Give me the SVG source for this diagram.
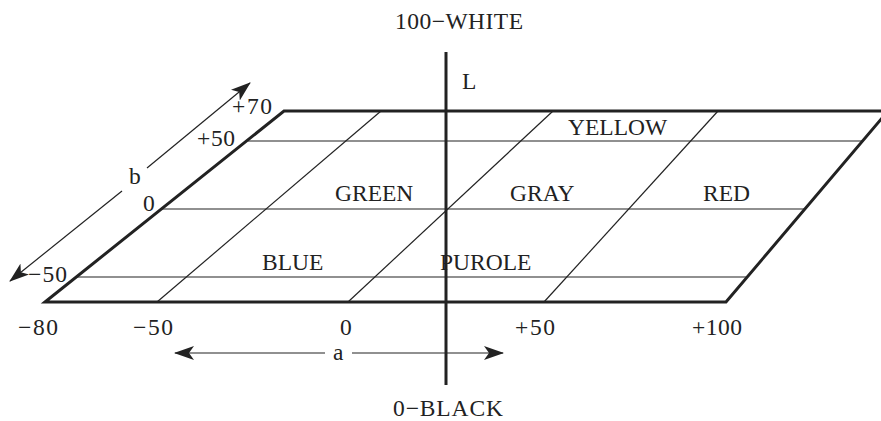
<svg xmlns="http://www.w3.org/2000/svg" width="881" height="421" viewBox="0 0 881 421">
<style>
text{font-family:"Liberation Serif","Times New Roman",serif;font-size:23.5px;fill:#222}
.thick{stroke:#222;stroke-width:3;fill:none;stroke-linejoin:miter}
.thin{stroke:#222;stroke-width:1.2;fill:none}
.ax{stroke:#222;stroke-width:1.2;fill:none}
</style>
<defs>
<marker id="ah" viewBox="0 0 20 14" refX="19" refY="7" markerWidth="20" markerHeight="14" markerUnits="userSpaceOnUse" orient="auto">
<path d="M0,0 L20,7 L0,14 L5,7 z" fill="#222"/>
</marker>
</defs>
<rect width="881" height="421" fill="#fff"/>
<g id="plane">
<line class="thin" x1="248" y1="141" x2="863" y2="141"/>
<line class="thin" x1="162" y1="209" x2="805" y2="209"/>
<line class="thin" x1="77" y1="277" x2="746" y2="277"/>
<line class="thin" x1="157" y1="302" x2="381" y2="111"/>
<line class="thin" x1="348" y1="302" x2="553" y2="111"/>
<line class="thin" x1="544" y1="302" x2="718" y2="111"/>
<polygon class="thick" points="45,302 284,111 888,111 726,302"/>
</g>
<g id="L-axis">
<line stroke="#222" stroke-width="3" x1="446" y1="52" x2="446" y2="385"/>
</g>
<g id="connectors">
<line class="ax" x1="147" y1="168" x2="250" y2="83" marker-end="url(#ah)"/>
<line class="ax" x1="122" y1="191" x2="10" y2="281" marker-end="url(#ah)"/>
<line class="ax" x1="325" y1="353" x2="175" y2="353" marker-end="url(#ah)"/>
<line class="ax" x1="352" y1="353" x2="503" y2="353" marker-end="url(#ah)"/>
</g>
<g id="labels">
<text x="395" y="29" textLength="128" lengthAdjust="spacing">100−WHITE</text>
<text x="462" y="89">L</text>
<text x="393" y="416" textLength="110" lengthAdjust="spacing">0−BLACK</text>
<text x="333" y="360">a</text>
<text x="129" y="184">b</text>
<text x="568" y="135">YELLOW</text>
<text x="335" y="201">GREEN</text>
<text x="510" y="201">GRAY</text>
<text x="703" y="201">RED</text>
<text x="262" y="270">BLUE</text>
<text x="440" y="270">PUROLE</text>
<text x="232" y="114" textLength="40" lengthAdjust="spacing">+70</text>
<text x="197" y="146" textLength="38" lengthAdjust="spacing">+50</text>
<text x="143" y="211">0</text>
<text x="28" y="282" textLength="39" lengthAdjust="spacing">−50</text>
<text x="18" y="335" textLength="40" lengthAdjust="spacing">−80</text>
<text x="133" y="335" textLength="40" lengthAdjust="spacing">−50</text>
<text x="340" y="335">0</text>
<text x="515" y="335" textLength="40" lengthAdjust="spacing">+50</text>
<text x="692" y="335" textLength="50" lengthAdjust="spacing">+100</text>
</g>
</svg>
